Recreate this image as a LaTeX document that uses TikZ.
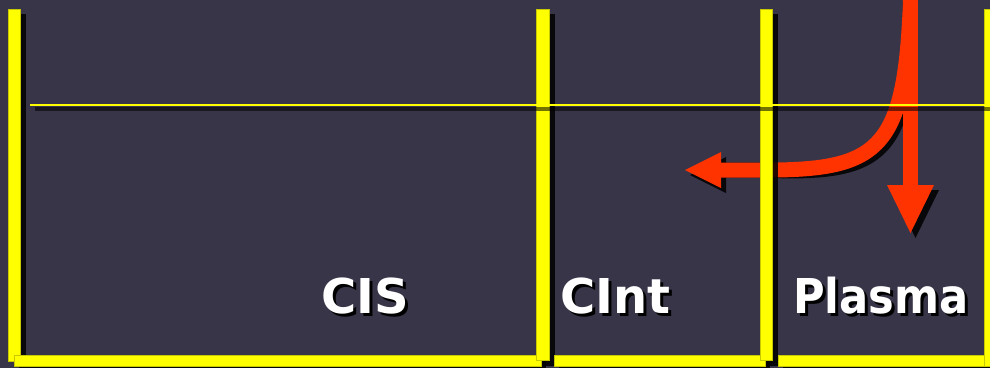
\documentclass[tikz,border=0pt]{standalone}
\usepackage{fontspec}
\usepackage{graphicx}
\newfontfamily\lblfont{DejaVu Sans}
\definecolor{bgcol}{RGB}{56,53,72}
\definecolor{barYellow}{RGB}{255,255,0}
\definecolor{barEdge}{RGB}{200,200,0}
\definecolor{arrRed}{RGB}{255,51,0}
\newcommand\shadowedtext[1]{\makebox[0pt][l]{\hspace{2.25pt}\raisebox{-2.25pt}{\textcolor{black}{#1}}}#1}
\begin{document}
\begin{tikzpicture}[x=0.75pt,y=-0.75pt,
  bar/.style={fill=barYellow, draw=barEdge, line width=0.3pt},
  shd/.style={fill=black, opacity=0.85},
  lbl/.style={font=\lblfont\bfseries\fontsize{36}{36}\selectfont, text=white, inner sep=0pt, anchor=base west},
  arr/.style={draw=arrRed, line width=11.25pt},
  arrshd/.style={draw=black, line width=11.25pt, opacity=0.85},
  headfill/.style={fill=arrRed},
  headshd/.style={fill=black, opacity=0.85},
  hline/.style={draw=barYellow, line width=1.5pt},
  hlineshd/.style={draw=black, line width=2.4pt, opacity=0.55}]
\fill[bgcol] (0,0) rectangle (990,368);
\useasboundingbox (0,0) rectangle (990,368);

% arrow coordinates
\coordinate (src) at (910.5,0);
\coordinate (bend) at (760,170);
\coordinate (endL) at (721,170);
\coordinate (endD) at (910.5,187);

% arrow shadows
\begin{scope}[shift={(5,5)}]
  \draw[arrshd] (src) .. controls (905,150) and (880,171) .. (bend) -- (endL);
  \draw[arrshd] (src) -- (endD);
  \fill[headshd] (721,152) -- (685,170) -- (721,188) -- cycle;
  \fill[headshd] (887,185) -- (910.5,233) -- (934,185) -- cycle;
\end{scope}
% arrows
\draw[arr] (src) .. controls (905,150) and (880,171) .. (bend) -- (endL);
\draw[arr] (src) -- (endD);
\fill[headfill] (721,152) -- (685,170) -- (721,188) -- cycle;
\fill[headfill] (887,185) -- (910.5,233) -- (934,185) -- cycle;

% compartment 1
\fill[shd] (14,14) rectangle (26,366);
\fill[bar] (8,9) rectangle (20.5,361);
\fill[shd] (19,360) rectangle (546,371);
\fill[bar] (14,355) rectangle (541,366);
% compartment 2
\fill[shd] (542,14) rectangle (554.5,366);
\fill[bar] (536,9) rectangle (549,360.5);
\fill[shd] (559,360) rectangle (770,371);
\fill[bar] (554,355) rectangle (765,366);
% compartment 3
\fill[shd] (766,14) rectangle (778,366);
\fill[bar] (760,9) rectangle (772.5,360.5);
\fill[shd] (783,360) rectangle (995,371);
\fill[bar] (778,355) rectangle (995,366);
% right bar
\fill[bar] (984,9) rectangle (996,366);

% labels
\node[lbl] (cis) at (321,313) {\shadowedtext{CIS}};
\node[lbl] (cint) at (560,313) {\shadowedtext{CInt}};
\node[lbl] (plasma) at (793,313) {\shadowedtext{\scalebox{0.9}[1]{Plasma}}};

% thin horizontal line
\coordinate (hlA) at (30,105);
\coordinate (hlB) at (990,105);
\draw[hlineshd] ([shift={(5,4)}]hlA) -- ([shift={(5,4)}]hlB);
\draw[hline] (hlA) -- (hlB);
\end{tikzpicture}
\end{document}
